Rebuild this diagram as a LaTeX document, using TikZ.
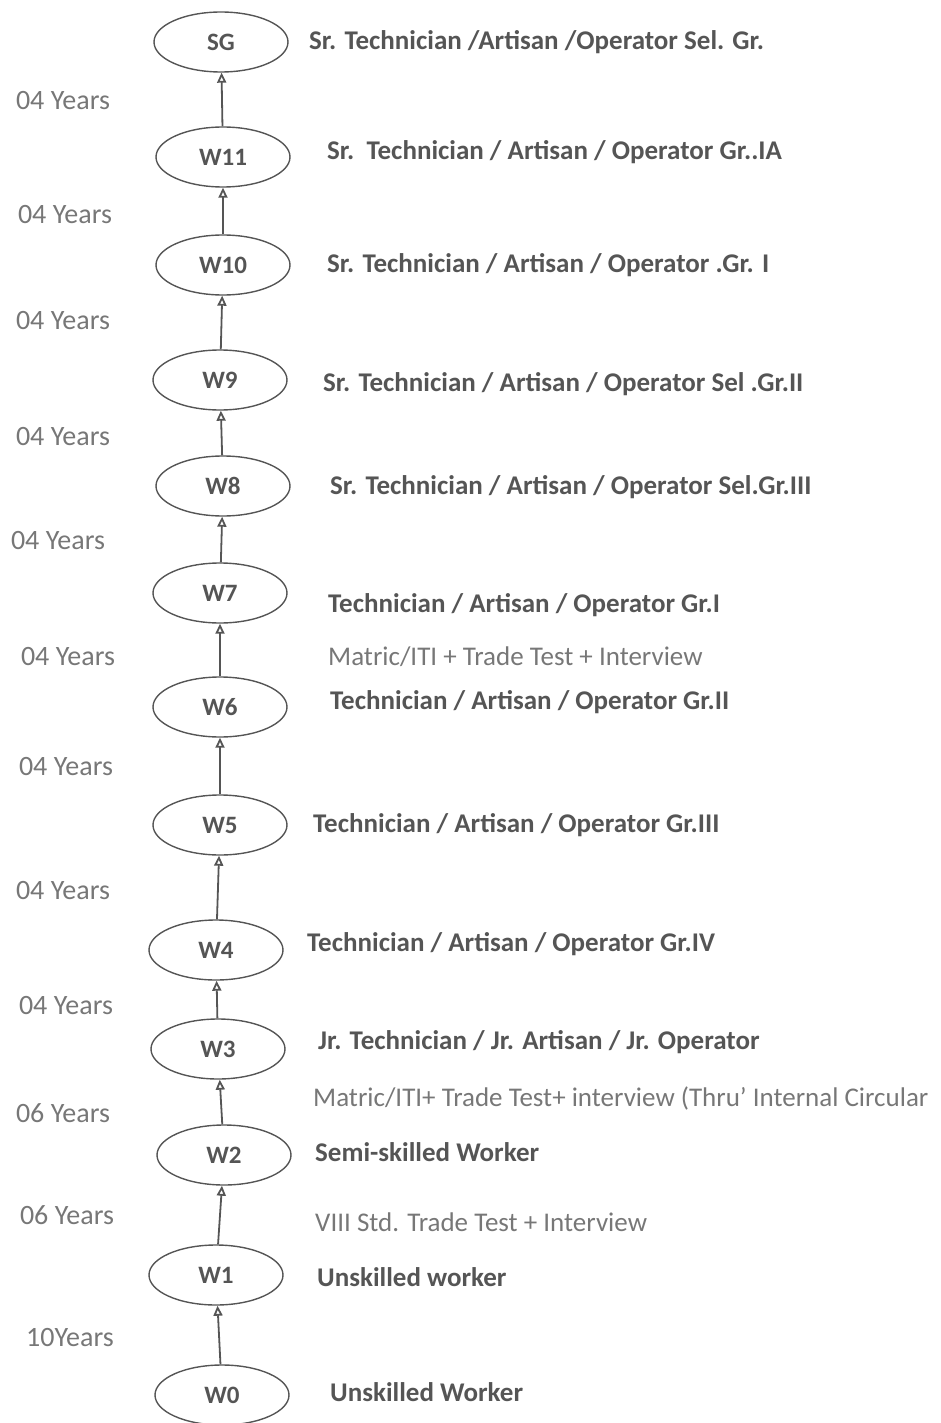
\documentclass[tikz,border=0pt]{standalone}
\usepackage{fontspec}
\setmainfont{Carlito}
\usetikzlibrary{arrows.meta,shapes.geometric}
\definecolor{ink}{HTML}{555555}
\definecolor{soft}{HTML}{777777}
\begin{document}
\begin{tikzpicture}[x=1pt,y=-1pt]
\tikzset{grade/.style={draw=ink,line width=1.4pt,ellipse,minimum width=134pt,minimum height=60pt,inner sep=0pt,text=ink,font=\fontsize{25}{29}\selectfont\bfseries},
  post/.style={anchor=west,inner sep=0pt,text=ink,font=\fontsize{27}{31}\selectfont\bfseries},
  note/.style={anchor=west,inner sep=0pt,text=soft,font=\fontsize{27}{31}\selectfont},
  span/.style={inner sep=0pt,text=soft,font=\fontsize{28}{32}\selectfont},
  up/.style={draw=ink,line width=1.8pt,-{Triangle[open,length=10pt,width=9pt]}}}
\useasboundingbox (0,0) rectangle (940,1423);
\node[grade] (sg) at (221,42) {SG};
\node[grade] (w11) at (223,157) {W11};
\node[grade] (w10) at (223,265) {W10};
\node[grade] (w9) at (220,380) {W9};
\node[grade] (w8) at (223,486) {W8};
\node[grade] (w7) at (220,593) {W7};
\node[grade] (w6) at (220,707) {W6};
\node[grade] (w5) at (220,825) {W5};
\node[grade] (w4) at (216,950) {W4};
\node[grade] (w3) at (218,1049) {W3};
\node[grade] (w2) at (224,1155) {W2};
\node[grade] (w1) at (216,1275) {W1};
\node[grade] (w0) at (222,1395) {W0};
% promotions
\draw[up] (w11) -- (sg);
\draw[up] (w10) -- (w11);
\draw[up] (w9) -- (w10);
\draw[up] (w8) -- (w9);
\draw[up] (w7) -- (w8);
\draw[up] (w6) -- (w7);
\draw[up] (w5) -- (w6);
\draw[up] (w4) -- (w5);
\draw[up] (w3) -- (w4);
\draw[up] (w2) -- (w3);
\draw[up] (w1) -- (w2);
\draw[up] (w0) -- (w1);
% years in grade
\node[span] (y11) at (63,101) {04 Years};
\node[span] (y10) at (65,215) {04 Years};
\node[span] (y9) at (63,321) {04 Years};
\node[span] (y8) at (63,437) {04 Years};
\node[span] (y7) at (58,541) {04 Years};
\node[span] (y6) at (68,657) {04 Years};
\node[span] (y5) at (66,767) {04 Years};
\node[span] (y4) at (63,891) {04 Years};
\node[span] (y3) at (66,1006) {04 Years};
\node[span] (y2) at (63,1113) {06 Years};
\node[span] (y1) at (67,1215) {06 Years};
\node[span] (y0) at (70,1338) {10Years};
% posts
\node[post] (psg) at (309,42) {Sr. Technician /Artisan /Operator Sel. Gr.};
\node[post] (p11) at (327,152) {Sr.\ \ Technician / Artisan / Operator Gr..IA};
\node[post] (p10) at (327,265) {Sr. Technician / Artisan / Operator .Gr. I};
\node[post] (p9) at (323,384) {Sr. Technician / Artisan / Operator Sel .Gr.II};
\node[post] (p8) at (330,487) {Sr. Technician / Artisan / Operator Sel.Gr.III};
\node[post] (p7) at (328,605) {Technician / Artisan / Operator Gr.I};
\node[note] (n7) at (328,657) {Matric/ITI + Trade Test + Interview};
\node[post] (p6) at (330,702) {Technician / Artisan / Operator Gr.II};
\node[post] (p5) at (313,825) {Technician / Artisan / Operator Gr.III};
\node[post] (p4) at (307,944) {Technician / Artisan / Operator Gr.IV};
\node[post] (p3) at (318,1042) {Jr. Technician / Jr. Artisan / Jr. Operator};
\node[note] (n3) at (313,1098) {Matric/ITI+ Trade Test+ interview (Thru' Internal Circular};
\node[post] (p2) at (315,1152) {Semi-skilled Worker};
\node[note] (n1) at (315,1222) {VIII Std. Trade Test + Interview};
\node[post] (p1) at (317,1277) {Unskilled worker};
\node[post] (p0) at (330,1392) {Unskilled Worker};
\end{tikzpicture}
\end{document}
